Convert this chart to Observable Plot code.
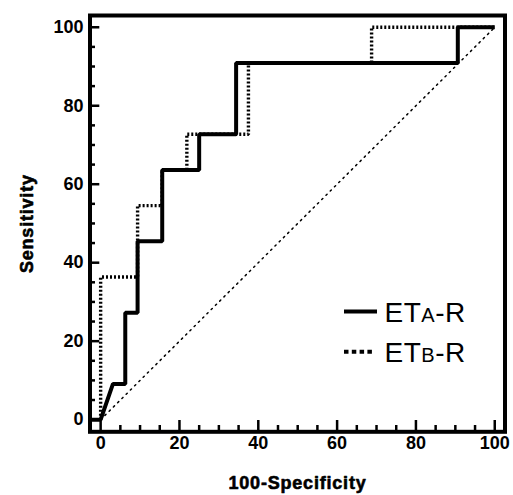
<!DOCTYPE html>
<html><head><meta charset="utf-8">
<script src="https://cdn.jsdelivr.net/npm/d3@7"></script>
<script src="https://cdn.jsdelivr.net/npm/@observablehq/plot@0.6"></script>
<style>
body{margin:0;background:#fff;}
svg{font-family:"Liberation Sans",Arial,Helvetica,sans-serif;}
</style>
</head><body><div id="chart"></div>
<script>
// ---- data ----
const seriesNames = ["ETA-R", "ETB-R"];
const etaX = [-3, 0, 3.125, 6.25, 6.25, 9.375, 9.375, 15.625, 15.625, 25, 25, 34.375, 34.375, 90.625, 90.625, 100];
const etaY = [0, 0, 9.09, 9.09, 27.27, 27.27, 45.45, 45.45, 63.64, 63.64, 72.73, 72.73, 90.91, 90.91, 100, 100];
const etbX = [0, 0, 9.375, 9.375, 15.625, 15.625, 21.875, 21.875, 37.5, 37.5, 68.75, 68.75, 100];
const etbY = [0, 36.36, 36.36, 54.55, 54.55, 63.64, 63.64, 72.73, 72.73, 90.91, 90.91, 100, 100];
const refX = [0, 100];
const refY = [0, 100];
const xMajor = [0, 20, 40, 60, 80, 100];
const yMajor = [0, 20, 40, 60, 80, 100];
const xMinor = [5, 10, 15, 25, 30, 35, 45, 50, 55, 65, 70, 75, 85, 90, 95];
const yMinor = [5, 10, 15, 25, 30, 35, 45, 50, 55, 65, 70, 75, 85, 90, 95];

// ---- layout ----
const W = 513, H = 495, mL = 89.5, mR = 8.5, mT = 15, mB = 63.7;
const xDom = [-2.7, 102.6], yDom = [-3.1, 103];
const kx = (W - mL - mR) / (xDom[1] - xDom[0]);
const ky = (H - mT - mB) / (yDom[1] - yDom[0]);

const eta = etaX.map((x, i) => ({x, y: etaY[i]}));
const etb = etbX.map((x, i) => ({x, y: etbY[i]}));
const ref = refX.map((x, i) => ({x, y: refY[i]}));

const boldText = {fontSize: 18, fontWeight: "bold", fill: "black", stroke: "black", strokeWidth: 0.6};

const plot = Plot.plot({
  width: W, height: H,
  marginLeft: mL, marginRight: mR, marginTop: mT, marginBottom: mB,
  x: {domain: xDom},
  y: {domain: yDom},
  style: {background: "white", color: "black", fontFamily: '"Liberation Sans",Arial,sans-serif', overflow: "visible"},
  marks: [
    Plot.line(ref, {x: "x", y: "y", stroke: "black", strokeWidth: 1.5, strokeDasharray: "1.5,4.5"}),
    Plot.line(etb, {x: "x", y: "y", stroke: "black", strokeWidth: 3.4, strokeDasharray: "2,2", strokeLinejoin: "miter", strokeLinecap: "butt", clip: true}),
    Plot.line(eta, {x: "x", y: "y", stroke: "black", strokeWidth: 4, strokeLinejoin: "miter", strokeLinecap: "butt", clip: true}),
    Plot.ruleX(xMinor, {x: d => d, y1: yDom[0], y2: yDom[0] + 6.3 / ky, stroke: "black", strokeWidth: 2.5}),
    Plot.ruleX(xMajor, {x: d => d, y1: yDom[0], y2: yDom[0] + 11.3 / ky, stroke: "black", strokeWidth: 2.5}),
    Plot.ruleY(yMinor, {y: d => d, x1: xDom[0], x2: xDom[0] + 5.5 / kx, stroke: "black", strokeWidth: 2.5}),
    Plot.ruleY(yMajor, {y: d => d, x1: xDom[0], x2: xDom[0] + 9.8 / kx, stroke: "black", strokeWidth: 2.5}),
    Plot.axisX({ticks: xMajor, tickSize: 0, tickPadding: 4, label: null, ...boldText}),
    Plot.axisY({ticks: yMajor, tickSize: 0, tickPadding: 6.5, label: null, ...boldText}),
    Plot.frame({stroke: "black", strokeWidth: 4}),
    Plot.text(["Sensitivity"], {frameAnchor: "left", dx: -62.8, rotate: -90, textAnchor: "middle", lineAnchor: "middle", ...boldText}),
    Plot.text(["100-Specificity"], {frameAnchor: "bottom", dy: 51.7, textAnchor: "middle", lineAnchor: "middle", ...boldText})
  ]
});

document.getElementById("chart").appendChild(plot);

// letter spacing for the axis titles
d3.select(plot).selectAll('g[aria-label="text"] text').style("letter-spacing", "0.8px");

// ---- legend ----
const leg = d3.select(plot).append("g")
  .attr("font-size", 28).attr("fill", "black").attr("text-anchor", "start")
  .attr("font-family", '"Liberation Sans",Arial,sans-serif');
seriesNames.forEach((s, i) => {
  const y0 = 311.5 + i * 40.2;
  leg.append("line")
    .attr("x1", 344).attr("x2", i ? 372 : 377)
    .attr("y1", y0).attr("y2", y0)
    .attr("stroke", "black").attr("stroke-width", 4)
    .attr("stroke-dasharray", i ? "4.5,3.3" : null);
  const t = leg.append("text").attr("x", 384.5).attr("y", y0 + 10)
    .attr("text-anchor", "start").style("letter-spacing", "0.5px");
  t.append("tspan").text(s.slice(0, 2));
  t.append("tspan").attr("font-size", 20).text(s.slice(2, 3));
  t.append("tspan").text(s.slice(3));
});
</script>
</body></html>
